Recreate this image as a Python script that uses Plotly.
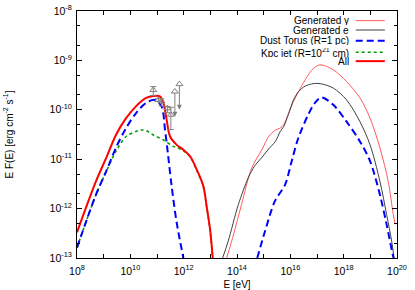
import numpy as np
import plotly.graph_objects as go

# ---- data (log10 E [eV], log10 E F(E) [erg cm^-2 s^-1]) ----
all_logE = [8.0, 8.71, 9.09, 9.46, 9.84, 10.21, 10.59, 10.86, 11.11, 11.24, 11.36, 11.49,
            11.74, 11.99, 12.24, 12.49, 12.74, 12.86, 12.99, 13.09]
all_logF = [-12.48, -11.45, -10.98, -10.51, -10.17, -9.93, -9.76, -9.72, -9.73, -9.86, -10.2, -10.54,
            -10.71, -10.81, -10.94, -11.21, -11.55, -11.95, -12.42, -13.0]

torus_low_logE = [8.0, 8.71, 9.09, 9.46, 9.84, 10.21, 10.59, 10.92, 11.17, 11.30, 11.42, 11.55, 11.74, 11.99]
torus_low_logF = [-12.79, -11.72, -11.25, -10.77, -10.37, -10.07, -9.86, -9.80, -9.93, -10.40, -10.94, -11.55, -12.29, -13.0]
torus_high_logE = [14.76, 15.05, 15.42, 15.80, 16.05, 16.30, 16.67, 16.92, 17.17, 17.61, 18.11, 18.61,
                   18.99, 19.36, 19.61, 19.84, 19.92]
torus_high_logF = [-13.0, -12.46, -11.85, -11.52, -11.04, -10.57, -10.10, -9.86, -9.75, -9.90, -10.24, -10.64,
                   -11.04, -11.72, -12.32, -12.93, -13.1]

jet_logE = [8.0, 8.71, 9.09, 9.46, 9.84, 10.21, 10.40, 10.59, 10.86, 11.24, 11.61, 11.74, 11.99,
            12.24, 12.49, 12.74, 12.86, 12.99, 13.09]
jet_logF = [-12.79, -11.72, -11.26, -10.84, -10.54, -10.44, -10.41, -10.42, -10.51, -10.61, -10.74, -10.76, -10.83,
            -10.95, -11.22, -11.56, -11.96, -12.43, -13.0]

gam_logE = [13.61, 13.80, 14.17, 14.55, 14.94, 15.19, 15.44, 15.62, 15.75, 15.94, 16.12, 16.31, 16.56,
            16.87, 17.12, 17.61, 18.11, 18.61, 18.99, 19.36, 19.67, 19.86, 19.93]
gam_logF = [-13.0, -12.66, -11.92, -11.18, -10.80, -10.54, -10.41, -10.37, -10.30, -10.07, -9.83, -9.63, -9.39,
            -9.16, -9.09, -9.19, -9.43, -9.76, -10.17, -10.77, -11.45, -12.12, -12.32]

ele_logE = [13.46, 13.67, 14.05, 14.42, 14.67, 14.94, 15.19, 15.44, 15.62, 15.75, 15.94, 16.12, 16.31,
            16.56, 16.87, 17.12, 17.61, 18.11, 18.61, 18.99, 19.36, 19.61, 19.80, 19.89]
ele_logF = [-13.0, -12.66, -11.92, -11.38, -11.13, -10.96, -10.79, -10.64, -10.44, -10.34, -10.07, -9.80, -9.63,
            -9.52, -9.47, -9.47, -9.56, -9.80, -10.24, -10.71, -11.45, -12.12, -12.66, -13.0]

# measured points with error bars
pts_logE = [10.86, 11.05, 11.17, 11.39, 11.52]
pts_logF = [-9.60, -9.80, -9.83, -9.97, -10.10]
pts_err_up = [0.07, 0.03, 0.05, 0.04, 0.15]
pts_err_dn = [0.11, 0.03, 0.09, 0.09, 0.30]
# upper limits
ul_logE = [11.67, 11.84]
ul_logF = [-9.63, -9.48]
ul_len = [0.51, 0.52]

x_tick_logs = list(range(8, 21))
x_tick_text = [f"10<sup>{k}</sup>" if k % 2 == 0 else "" for k in x_tick_logs]
y_tick_logs = list(range(-13, -7))
y_tick_text = [f"10<sup>{k}</sup>" for k in y_tick_logs]

legend_names = ["Generated \u03b3", "Generated e", "Dust Torus (R=1 pc)",
                "Kpc jet (R=10<sup>21</sup> cm)", "All"]

FONT = "Liberation Sans, Arial, Helvetica, sans-serif"
C_ALL = "#ff0000"
C_GAM = "#ff5a5a"
C_ELE = "#404040"
C_TOR = "#0000ff"
C_JET = "#00a000"
C_PTS = "#808080"
DASH = "7px,4px"

def p(a):
    return np.power(10.0, np.array(a, dtype=float))

fig = go.Figure()
sm = 0.9
fig.add_trace(go.Scatter(x=p(gam_logE), y=p(gam_logF), mode="lines",
                         line=dict(color=C_GAM, width=1, shape="spline", smoothing=sm), showlegend=False))
fig.add_trace(go.Scatter(x=p(ele_logE), y=p(ele_logF), mode="lines",
                         line=dict(color=C_ELE, width=1, shape="spline", smoothing=sm), showlegend=False))
fig.add_trace(go.Scatter(x=p(jet_logE), y=p(jet_logF), mode="lines",
                         line=dict(color=C_JET, width=1.6, dash="dot", shape="spline", smoothing=sm), showlegend=False))
fig.add_trace(go.Scatter(x=p(torus_low_logE), y=p(torus_low_logF), mode="lines",
                         line=dict(color=C_TOR, width=2, dash=DASH, shape="spline", smoothing=sm), showlegend=False))
fig.add_trace(go.Scatter(x=p(torus_high_logE), y=p(torus_high_logF), mode="lines",
                         line=dict(color=C_TOR, width=2, dash=DASH, shape="spline", smoothing=sm), showlegend=False))
fig.add_trace(go.Scatter(x=p(all_logE), y=p(all_logF), mode="lines",
                         line=dict(color=C_ALL, width=2, shape="spline", smoothing=sm), showlegend=False))

# data points
yv = np.array(pts_logF)
fig.add_trace(go.Scatter(
    x=p(pts_logE), y=p(pts_logF), mode="markers",
    marker=dict(symbol="triangle-up-open", size=6, color=C_PTS, line=dict(width=1, color=C_PTS)),
    error_y=dict(type="data", symmetric=False,
                 array=p(yv + np.array(pts_err_up)) - p(yv),
                 arrayminus=p(yv) - p(yv - np.array(pts_err_dn)),
                 color=C_PTS, thickness=1, width=3),
    showlegend=False))
fig.add_trace(go.Scatter(
    x=p(ul_logE), y=p(ul_logF), mode="markers",
    marker=dict(symbol="triangle-up-open", size=6, color=C_PTS, line=dict(width=1, color=C_PTS)),
    showlegend=False))
for le, lf, ln in zip(ul_logE, ul_logF, ul_len):
    fig.add_annotation(x=le, y=lf - ln, ax=le, ay=lf, xref="x", yref="y", axref="x", ayref="y",
                       text="", showarrow=True, arrowhead=2, arrowsize=1, arrowwidth=1, arrowcolor=C_PTS)

# hand-drawn gnuplot-style key (text right, sample to its right)
key_y = [0.961, 0.923, 0.880, 0.833, 0.797]
key_styles = [dict(color=C_GAM, width=1), dict(color=C_ELE, width=1),
              dict(color=C_TOR, width=2, dash=DASH), dict(color=C_JET, width=1.6, dash="dot"),
              dict(color=C_ALL, width=2)]
for name, yy, st in zip(legend_names, key_y, key_styles):
    fig.add_annotation(x=0.856, y=yy, xref="paper", yref="paper", text=name, showarrow=False,
                       xanchor="right", yanchor="middle", height=9,
                       font=dict(family=FONT, size=10, color="black"))
    fig.add_shape(type="line", xref="paper", yref="paper", x0=0.871, x1=0.962, y0=yy, y1=yy, line=st)

minor_y = []
for k in range(-13, -8):
    minor_y += [2 * 10.0 ** k, 5 * 10.0 ** k]

fig.update_layout(
    width=415, height=290,
    margin=dict(l=77, r=18, t=11, b=32, autoexpand=False),
    paper_bgcolor="white", plot_bgcolor="white",
    hovermode=False,
    font=dict(family=FONT, size=10, color="black"),
    xaxis=dict(type="log", range=[8, 20], tickvals=p(x_tick_logs), ticktext=x_tick_text,
               ticks="inside", ticklen=4, tickcolor="black", showline=True, linecolor="black", linewidth=1,
               mirror="ticks", showgrid=False, zeroline=False, automargin=False, ticklabeloverflow="allow",
               ticklabelstandoff=3,
               tickfont=dict(family=FONT, size=10.5),
               title=dict(text="E [eV]", standoff=8, font=dict(family=FONT, size=10))),
    yaxis=dict(type="log", range=[-13, -8], tickvals=p(y_tick_logs), ticktext=y_tick_text,
               ticks="inside", ticklen=5, tickcolor="black", showline=True, linecolor="black", linewidth=1,
               mirror="ticks", showgrid=False, zeroline=False, automargin=False, ticklabeloverflow="allow",
               ticklabelstandoff=2,
               minor=dict(tickvals=minor_y, ticks="inside", ticklen=3, tickcolor="black"),
               tickfont=dict(family=FONT, size=10.5),
               title=dict(text="E F(E) [erg cm<sup>-2</sup> s<sup>-1</sup>]", standoff=34,
                          font=dict(family=FONT, size=10))),
)

# remove the default 8px page margin so the 415x290 figure sits at the window origin
fig.write_html("out.html", config={"displayModeBar": False},
               post_script="document.body.style.margin='0px';")
